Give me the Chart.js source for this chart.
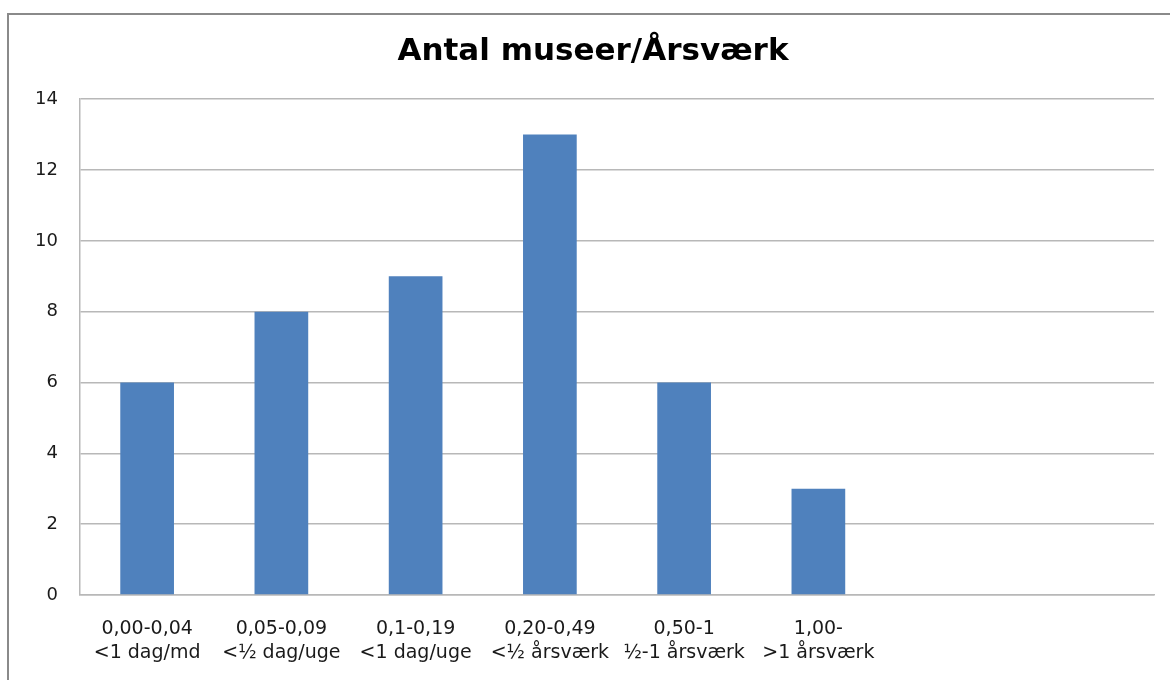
<!DOCTYPE html>
<html>
<head>
<meta charset="utf-8">
<script src="https://cdn.jsdelivr.net/npm/chart.js@4"></script>
<style>
  html, body { margin: 0; padding: 0; background: #fff; overflow: hidden; }
  #wrap { position: relative; width: 1170px; height: 680px; overflow: hidden; }
  #frame { position: absolute; left: 7px; top: 13px; width: 1200px; height: 700px;
           border: 2px solid #8a8a8a; box-sizing: border-box; }
  #chart { position: absolute; left: 0; top: 0; }
</style>
</head>
<body>
<div id="wrap">
  <div id="frame"></div>
  <canvas id="chart" width="1170" height="680"></canvas>
</div>
<script>
// Antal museer fordelt på årsværk (6 grupper + 2 tomme pladser som i originalen)
const CATEGORIES = [
  ['0,00-0,04', '<1 dag/md'],
  ['0,05-0,09', '<½ dag/uge'],
  ['0,1-0,19', '<1 dag/uge'],
  ['0,20-0,49', '<½ årsværk'],
  ['0,50-1', '½-1 årsværk'],
  ['1,00-', '>1 årsværk'],
  '',
  '',
]
const VALUES = [6, 8, 9, 13, 6, 3, null, null]
const Y_TICKS = [0, 2, 4, 6, 8, 10, 12, 14]

const FONT = 'DejaVu Sans'
const GRID = '#b8b8b8'

new Chart(document.getElementById('chart'), {
  type: 'bar',
  data: {
    labels: CATEGORIES,
    datasets: [{
      data: VALUES,
      backgroundColor: '#4f81bd',
      borderWidth: 0,
      categoryPercentage: 1,
      barPercentage: 0.4,
    }],
  },
  options: {
    responsive: false,
    animation: false,
    // venstre padding skubber titlen lidt mod højre, som i originalen
    layout: { padding: { left: 32, right: 16, top: 0, bottom: 0 } },
    plugins: {
      legend: { display: false },
      tooltip: { enabled: false },
      title: {
        display: true,
        text: 'Antal museer/Årsværk',
        color: '#000',
        font: { family: FONT, size: 31, weight: 'bold' },
        padding: { top: 33, bottom: 29 },
      },
    },
    scales: {
      x: {
        grid: { display: false, drawTicks: false },
        border: { display: true, color: GRID, width: 1.5 },
        ticks: {
          color: '#1a1a1a',
          font: { family: FONT, size: 19, lineHeight: 1.28 },
          padding: 22,
          maxRotation: 0,
          autoSkip: false,
        },
        afterFit: s => { s.height = 85 },
      },
      y: {
        min: 0,
        max: 14,
        afterBuildTicks: s => { s.ticks = Y_TICKS.map(v => ({ value: v })) },
        grid: { color: GRID, lineWidth: 1.5, drawTicks: false },
        border: { display: true, color: GRID, width: 1.5 },
        ticks: {
          color: '#1a1a1a',
          font: { family: FONT, size: 18 },
          padding: 22,
        },
        afterFit: s => { s.width = 48 },
      },
    },
  },
})
</script>
</body>
</html>
